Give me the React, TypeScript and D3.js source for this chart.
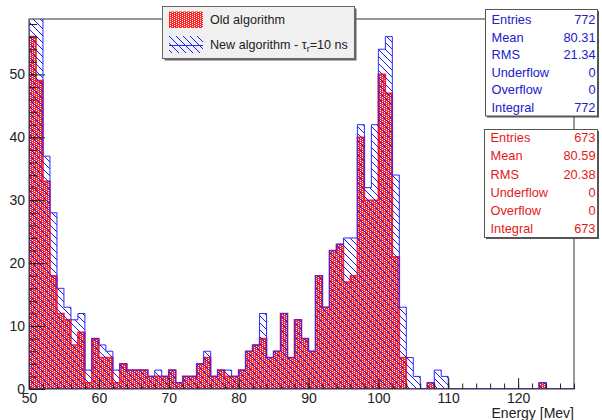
import React, { useRef, useEffect } from 'react';
import * as d3 from 'd3';

// histogram: 1 MeV bins starting at 50 MeV
const binStart = 50;
const binWidth = 1;
const oldCounts = [
  56, 49, 33, 18, 12, 11, 7, 9, 1, 8,
  5, 5, 1, 4, 3, 3, 3, 2, 2, 2,
  3, 1, 2, 2, 4, 5, 2, 3, 2, 2,
  3, 6, 7, 8, 5, 6, 12, 5, 11, 8,
  6, 18, 13, 22, 23, 17, 18, 40, 30, 30,
  50, 47, 21, 5, 0, 0, 0, 1, 0, 0,
  0, 0, 0, 0, 0, 0, 0, 0, 0, 0,
  0, 0, 0, 1, 0, 0, 0, 0
];
const newCounts = [
  60, 59, 37, 28, 16, 13, 11, 12, 3, 8,
  7, 6, 3, 4, 3, 3, 3, 2, 3, 2,
  3, 1, 2, 2, 4, 6, 2, 3, 3, 2,
  3, 6, 7, 12, 5, 6, 12, 5, 11, 8,
  6, 18, 13, 22, 23, 24, 24, 42, 32, 42,
  54, 56, 34, 13, 5, 2, 0, 1, 3, 2,
  0, 0, 0, 0, 0, 0, 0, 0, 0, 0,
  0, 0, 0, 1, 0, 0, 0, 0
];
const xTicks = [50, 60, 70, 80, 90, 100, 110, 120];
const yTicks = [0, 10, 20, 30, 40, 50];
const statLabels = ['Entries', 'Mean', 'RMS', 'Underflow', 'Overflow', 'Integral'];
const newStats = ['772', '80.31', '21.34', '0', '0', '772'];
const oldStats = ['673', '80.59', '20.38', '0', '0', '673'];

const FONT = '"Liberation Sans", Arial, Helvetica, sans-serif';

export default function App() {
  const svgRef = useRef<SVGSVGElement>(null);

  useEffect(() => {
    const svg = d3.select(svgRef.current);
    svg.selectAll('*').remove();

    const left = 29, right = 574, top = 19, bottom = 389;
    const x = d3.scaleLinear().domain([50, 128]).range([left, right]);
    const y = d3.scaleLinear().domain([0, 58.8]).range([bottom, top]);

    const defs = svg.append('defs');
    const dots = defs.append('pattern')
      .attr('id', 'redDots').attr('patternUnits', 'userSpaceOnUse')
      .attr('width', 4).attr('height', 2);
    dots.append('rect').attr('width', 4).attr('height', 2).attr('fill', '#ff2222');
    dots.append('rect').attr('x', 0).attr('y', 0).attr('width', 1).attr('height', 1).attr('fill', '#fff');
    dots.append('rect').attr('x', 2).attr('y', 1).attr('width', 1).attr('height', 1).attr('fill', '#fff');

    const hatch = defs.append('pattern')
      .attr('id', 'blueHatch').attr('patternUnits', 'userSpaceOnUse')
      .attr('width', 7).attr('height', 7);
    hatch.append('path')
      .attr('d', 'M-1,-1 L8,8 M-1,6 L1,8 M6,-1 L8,1')
      .attr('stroke', '#1a1aff').attr('stroke-width', 1).attr('fill', 'none');

    defs.append('clipPath').attr('id', 'frameClip')
      .append('rect').attr('x', left).attr('y', top)
      .attr('width', right - left).attr('height', bottom - top);

    // step outline of a histogram
    const stepPath = (counts: number[]) => {
      let d = `M${x(binStart)},${y(0)}`;
      counts.forEach((c, i) => {
        d += `V${y(c)}H${x(binStart + (i + 1) * binWidth)}`;
      });
      d += `V${y(0)}Z`;
      return d;
    };

    const plot = svg.append('g').attr('clip-path', 'url(#frameClip)');
    plot.append('path').attr('d', stepPath(oldCounts))
      .attr('fill', 'url(#redDots)').attr('stroke', '#ff2020').attr('stroke-width', 1.6);
    plot.append('path').attr('d', stepPath(newCounts))
      .attr('fill', 'url(#blueHatch)').attr('stroke', '#2a2aff').attr('stroke-width', 1);

    // frame
    svg.append('rect').attr('x', left).attr('y', top)
      .attr('width', right - left).attr('height', bottom - top)
      .attr('fill', 'none').attr('stroke', '#333').attr('stroke-width', 1);

    // axes, ticks pointing inward
    const xMinor = d3.range(50, 129, 2);
    const yMinor = d3.range(0, 59, 2);

    const xAx = svg.append('g').attr('transform', `translate(0,${bottom})`)
      .call(d3.axisBottom(x).tickValues(xTicks).tickSize(-11).tickPadding(4.5).tickFormat(d3.format('d')));
    svg.append('g').attr('transform', `translate(0,${bottom})`)
      .call(d3.axisBottom(x).tickValues(xMinor).tickSize(-5.5).tickFormat(() => ''));
    const yAx = svg.append('g').attr('transform', `translate(${left},0)`)
      .call(d3.axisLeft(y).tickValues(yTicks).tickSize(-16).tickPadding(4).tickFormat(d3.format('d')));
    svg.append('g').attr('transform', `translate(${left},0)`)
      .call(d3.axisLeft(y).tickValues(yMinor).tickSize(-8).tickFormat(() => ''));

    svg.selectAll('.domain').remove();
    svg.selectAll('.tick line').attr('stroke', '#222');
    [xAx, yAx].forEach(a => a.selectAll('text')
      .attr('font-family', FONT).attr('font-size', 14).attr('fill', '#222'));

    svg.append('text').attr('x', right).attr('y', 418)
      .attr('text-anchor', 'end').attr('font-family', FONT).attr('font-size', 14)
      .attr('fill', '#222').text('Energy [Mev]');

    // legend
    const lg = svg.append('g');
    lg.append('rect').attr('x', 164.5).attr('y', 8.5).attr('width', 192).attr('height', 52).attr('fill', '#666');
    lg.append('rect').attr('x', 162.5).attr('y', 6.5).attr('width', 192).attr('height', 52)
      .attr('fill', '#f0f0f0').attr('stroke', '#666').attr('stroke-width', 1);
    lg.append('rect').attr('x', 169).attr('y', 11.5).attr('width', 34).attr('height', 16.5).attr('fill', 'url(#redDots)');
    lg.append('rect').attr('x', 169).attr('y', 36).attr('width', 34).attr('height', 17).attr('fill', 'url(#blueHatch)');
    lg.append('line').attr('x1', 169).attr('x2', 203).attr('y1', 45.5).attr('y2', 45.5)
      .attr('stroke', '#2a2aff').attr('stroke-width', 1);
    lg.append('text').attr('x', 210).attr('y', 24).attr('font-family', FONT).attr('font-size', 12.6)
      .attr('fill', '#222').text('Old algorithm');
    const t2 = lg.append('text').attr('x', 210).attr('y', 49).attr('font-family', FONT).attr('font-size', 12.6)
      .attr('fill', '#222');
    t2.append('tspan').text('New algorithm - τ');
    t2.append('tspan').attr('dy', 3).attr('font-size', 9).text('r');
    t2.append('tspan').attr('dy', -3).text('=10 ns');

    // stats boxes
    const statBox = (x0: number, y0: number, w: number, h: number, vals: string[], color: string, step: number, firstY: number) => {
      const g = svg.append('g');
      g.append('rect').attr('x', x0 + 1.5).attr('y', y0 + 1.5).attr('width', w).attr('height', h).attr('fill', '#555');
      g.append('rect').attr('x', x0).attr('y', y0).attr('width', w).attr('height', h)
        .attr('fill', '#fff').attr('stroke', '#555').attr('stroke-width', 1);
      statLabels.forEach((lab, i) => {
        const yy = firstY + i * step + 4.6;
        g.append('text').attr('x', x0 + 6).attr('y', yy).attr('font-family', FONT)
          .attr('font-size', 12.8).attr('fill', color).text(lab);
        g.append('text').attr('x', x0 + w - 2).attr('y', yy).attr('text-anchor', 'end')
          .attr('font-family', FONT).attr('font-size', 12.8).attr('fill', color).text(vals[i]);
      });
    };
    statBox(485.5, 9.5, 112, 106.5, newStats, '#2020cc', 17.6, 19.3);
    statBox(484.5, 129.5, 113, 108, oldStats, '#e61818', 18.1, 137.7);
  }, []);

  return (
    <svg ref={svgRef} width={602} height={420}
      style={{ position: 'absolute', left: 0, top: 0, background: '#fff' }} />
  );
}
